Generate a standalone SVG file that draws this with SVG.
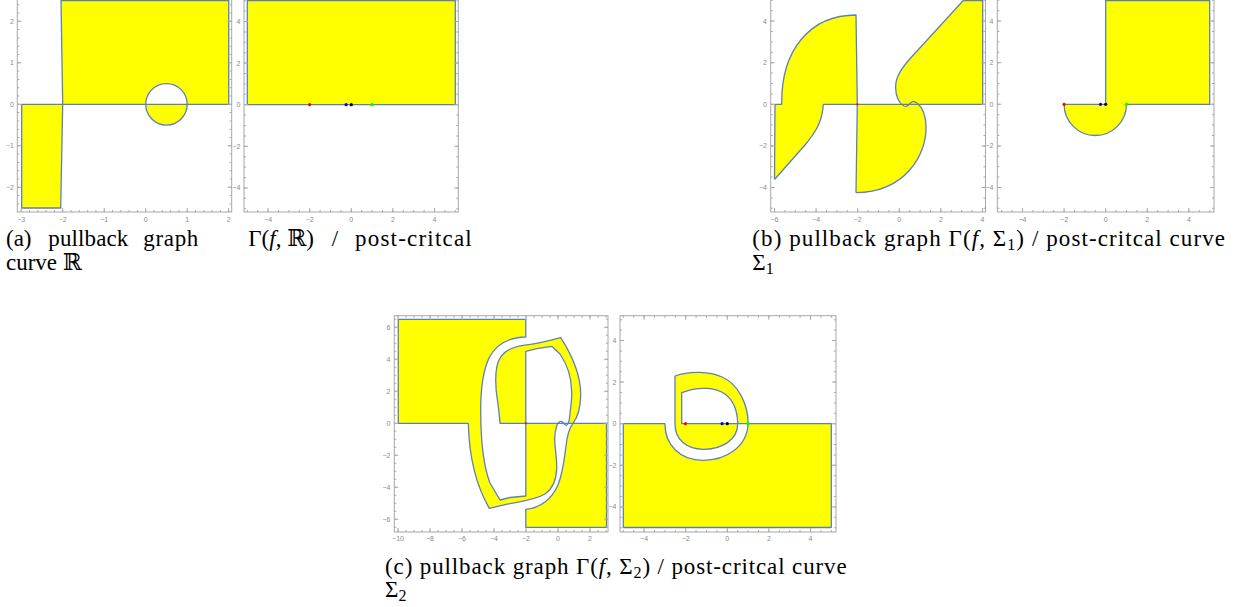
<svg xmlns="http://www.w3.org/2000/svg" width="1242" height="607" viewBox="0 0 1242 607">
<style>
.y{fill:#ffff00;stroke:none}
.b{fill:none;stroke:#5e81b5;stroke-width:1.3;stroke-linejoin:round}
.fr{fill:none;stroke:#a8a8a8;stroke-width:1}
.tM{fill:none;stroke:#a8a8a8;stroke-width:4}
.tm{fill:none;stroke:#a8a8a8;stroke-width:2}
.tl{font-family:"Liberation Sans",Arial,sans-serif;font-size:7px;fill:#8a8a8a}
.tb{text-anchor:middle}
.tv{text-anchor:end}
.it{font-style:italic}
</style>
<rect x="0" y="0" width="1242" height="607" fill="#ffffff"/>

<g id="panel-a-left">
<path class="y" d="M61,0.5 H228.7 V104.3 H187.2 A20.75,20.75 0 0 0 145.7,104.3 H62.7 Z"/>
<path class="y" d="M145.7,104.3 A20.75,20.75 0 0 0 187.2,104.3 Z"/>
<path class="y" d="M21.7,104.3 H62.7 L60.7,208 H21.7 Z"/>
<path class="b" d="M21.7,104.3 H228.7 V0.5 H61 L62.7,104.3 L60.7,208 H21.7 Z"/>
<circle class="b" cx="166.45" cy="104.3" r="20.75"/>
<rect class="fr" x="17.3" y="-10" width="214.4" height="222"/>
<path class="tM" d="M20.7,210 H231" stroke-dasharray="1 40.5"/>
<path class="tm" d="M20.7,211 H231" stroke-dasharray="1 7.3"/>
<path class="tM" d="M19.3,20.8 V212 M229.7,20.8 V212" stroke-dasharray="1 40.5"/>
<path class="tm" d="M18.3,4.2 V212 M230.7,4.2 V212" stroke-dasharray="1 7.3"/>
<g class="tl tb"><text x="21.2" y="222">−3</text><text x="62.7" y="222">−2</text><text x="104.2" y="222">−1</text><text x="145.7" y="222">0</text><text x="187.2" y="222">1</text><text x="228.7" y="222">2</text></g>
<g class="tl tv"><text x="14" y="23.8">2</text><text x="14" y="65.3">1</text><text x="14" y="106.8">0</text><text x="14" y="148.3">−1</text><text x="14" y="189.8">−2</text></g>
</g>

<g id="panel-a-right">
<rect class="y" x="247.3" y="0.5" width="208" height="104.2"/>
<rect class="b" x="247.3" y="0.5" width="208" height="104.2"/>
<circle cx="309.7" cy="104.7" r="1.6" fill="#ff0000"/>
<circle cx="346.1" cy="104.7" r="1.6" fill="#0000ff"/>
<circle cx="351.3" cy="104.7" r="1.6" fill="#000000"/>
<circle cx="372.1" cy="104.7" r="1.6" fill="#00ff00"/>
<rect class="fr" x="244" y="-10" width="214.3" height="222"/>
<path class="tM" d="M267.6,210 H458" stroke-dasharray="1 40.6"/>
<path class="tm" d="M246.8,211 H458" stroke-dasharray="1 9.4"/>
<path class="tM" d="M246,21 V212 M456.3,21 V212" stroke-dasharray="1 40.6"/>
<path class="tm" d="M245,0.2 V212 M457.3,0.2 V212" stroke-dasharray="1 9.4"/>
<g class="tl tb"><text x="268.1" y="222">−4</text><text x="309.7" y="222">−2</text><text x="351.3" y="222">0</text><text x="392.9" y="222">2</text><text x="434.5" y="222">4</text></g>
<g class="tl tv"><text x="240.5" y="24">4</text><text x="240.5" y="65.6">2</text><text x="240.5" y="107.2">0</text><text x="240.5" y="148.8">−2</text><text x="240.5" y="190.4">−4</text></g>
</g>

<g id="panel-b-left">
<path class="y" d="M775,104.3 H781.7 C781,50 810,15 856,15 L857.3,104.3 H823.3 C822.5,122 815,133 805,145 L774.5,179.5 Z"/>
<path class="y" d="M857.3,104.3 H901 L904.5,106 L909.5,104.3 H918.3 C922,107.5 925.5,114 926,126 C927,155 905,192 856,192.7 Z"/>
<path class="y" d="M963.3,0.5 H982.7 V104.3 H901 C898,101 895.7,95 895.6,87 C895.5,76 903,66.5 912,56.5 Z"/>
<path class="b" d="M774.5,179.5 L775,104.3 H781.7 C781,50 810,15 856,15 L857.3,104.3 L856,192.7 M823.3,104.3 C822.5,122 815,133 805,145 L774.5,179.5 M823.3,104.3 H982.7 V0.5 H963.3"/>
<path class="b" d="M963.3,0.5 L912,56.5 C903,66.5 895.5,76 895.6,87 C895.7,96 899,103 904,106 C907,107.5 909,105 910.5,103 C912,101 915,101 918.3,104.3 C922,107.5 925.5,114 926,126 C927,155 905,192 856,192.7"/>
<circle cx="857.3" cy="104.3" r="1.1" fill="#ff0000"/>
<rect class="fr" x="770.7" y="-10" width="214.8" height="222"/>
<path class="tM" d="M774,210 H985" stroke-dasharray="1 40.6"/>
<path class="tm" d="M774,211 H985" stroke-dasharray="1 9.4"/>
<path class="tM" d="M772.7,20.6 V212 M983.5,20.6 V212" stroke-dasharray="1 40.6"/>
<path class="tm" d="M771.7,-0.2 V212 M984.5,-0.2 V212" stroke-dasharray="1 9.4"/>
<g class="tl tb"><text x="774.5" y="222">−6</text><text x="816.1" y="222">−4</text><text x="857.7" y="222">−2</text><text x="899.3" y="222">0</text><text x="940.9" y="222">2</text><text x="982.5" y="222">4</text></g>
<g class="tl tv"><text x="767" y="23.6">4</text><text x="767" y="65.2">2</text><text x="767" y="106.8">0</text><text x="767" y="148.4">−2</text><text x="767" y="190">−4</text></g>
</g>

<g id="panel-b-right">
<path class="y" d="M1064.1,104.3 H1105.7 V0.5 H1209.7 V104.3 H1126.5 A31.2,31.2 0 0 1 1064.1,104.3 Z"/>
<path class="b" d="M1064.1,104.3 H1105.7 V0.5 H1209.7 V104.3 H1126.5 A31.2,31.2 0 0 1 1064.1,104.3 Z"/>
<circle cx="1064.1" cy="104.3" r="1.6" fill="#ff0000"/>
<circle cx="1100.5" cy="104.3" r="1.6" fill="#0000ff"/>
<circle cx="1105.7" cy="104.3" r="1.6" fill="#000000"/>
<circle cx="1126.5" cy="104.3" r="1.6" fill="#00ff00"/>
<rect class="fr" x="997.3" y="-10" width="216.7" height="222"/>
<path class="tM" d="M1022,210 H1214" stroke-dasharray="1 40.6"/>
<path class="tm" d="M1001.2,211 H1214" stroke-dasharray="1 9.4"/>
<path class="tM" d="M999.3,20.6 V212 M1212,20.6 V212" stroke-dasharray="1 40.6"/>
<path class="tm" d="M998.3,-0.2 V212 M1213,-0.2 V212" stroke-dasharray="1 9.4"/>
<g class="tl tb"><text x="1022.5" y="222">−4</text><text x="1064.1" y="222">−2</text><text x="1105.7" y="222">0</text><text x="1147.3" y="222">2</text><text x="1188.9" y="222">4</text></g>
<g class="tl tv"><text x="993.5" y="23.6">4</text><text x="993.5" y="65.2">2</text><text x="993.5" y="106.8">0</text><text x="993.5" y="148.4">−2</text><text x="993.5" y="190">−4</text></g>
</g>

<g id="panel-c-left">
<path class="y" d="M398.3,319.3 H525.8 V337 C510,337.5 496,344 489,358 C483,371 480.7,390 480.7,410 C480.7,440 483,465 490,483 L500,500 L510,497.5 L525.8,496 V423.3 H557.5 L557,425 C556,428 554.8,432 554.7,438 C554.5,447 556.8,455 556.7,468 C556.5,480 552,489 545,494 C535,500 520,501.5 505,504.7 L489.3,508.3 C474,482 469,452 468.3,423.3 H398.3 Z"/>
<path class="y" d="M525.8,527.3 H606.5 V423.3 H573 C577,418 580.5,408 580.7,395 C580.8,378 575,360 560.7,337.7 L550,340.3 C540,343 530,344.5 523.3,345.3 C512,347 503,351 499,360 C495,368 495,385 497.3,399 C498.5,408 499.5,415 500,423.3 H525.8 V351.3 L536.7,348.7 L551.7,346.3 L560,354 C567,364 571.5,378 571.7,392 C572,400 570.5,408 570,414 C569.6,419 569,423 567.5,424 L573,423.3 C569,428 567,437 566,446 C564.5,458 563,473 558,485 C552,499 540,508 525.8,509.3 Z"/>
<path class="b" d="M468.3,423.3 H398.3 V319.3 H525.8 V337 C510,337.5 496,344 489,358 C483,371 480.7,390 480.7,410 C480.7,440 483,465 490,483 L500,500 L510,497.5 L525.8,496 V351.3 L536.7,348.7 L551.7,346.3 L560,354 C567,364 571.5,378 571.7,392 C572,400 570.5,408 570,414 C569.6,419 569,423.5 567,425 C565.5,426 564.3,424.3 563,422.5 C561.5,420.5 558.5,421.5 557,425 C556,428 554.8,432 554.7,438 C554.5,447 556.8,455 556.7,468 C556.5,480 552,489 545,494 C535,500 520,501.5 505,504.7 L489.3,508.3 C474,482 469,452 468.3,423.3"/>
<path class="b" d="M500,423.3 H606.5 V527.3 H525.8 V509.3 C540,508 552,499 558,485 C563,473 564.5,458 566,446 C567,437 569,428 573,423.3 C577,418 580.5,408 580.7,395 C580.8,378 575,360 560.7,337.7 L550,340.3 C540,343 530,344.5 523.3,345.3 C512,347 503,351 499,360 C495,368 495,385 497.3,399 C498.5,408 499.5,415 500,423.3 Z"/>
<circle cx="525.8" cy="423.3" r="1.1" fill="#ff0000"/>
<rect class="fr" x="394.3" y="315.7" width="213.7" height="216.3"/>
<path class="tM" d="M397.5,530 H608 M397.5,317.7 H608" stroke-dasharray="1 31"/>
<path class="tm" d="M397.5,531 H608 M397.5,316.7 H608" stroke-dasharray="1 7"/>
<path class="tM" d="M396.3,326.8 V532 M606,326.8 V532" stroke-dasharray="1 31"/>
<path class="tm" d="M395.3,318.8 V532 M607,318.8 V532" stroke-dasharray="1 7"/>
<g class="tl tb"><text x="398" y="541">−10</text><text x="430" y="541">−8</text><text x="462" y="541">−6</text><text x="494" y="541">−4</text><text x="526" y="541">−2</text><text x="558" y="541">0</text><text x="590" y="541">2</text></g>
<g class="tl tv"><text x="390.5" y="329.8">6</text><text x="390.5" y="361.8">4</text><text x="390.5" y="393.8">2</text><text x="390.5" y="425.8">0</text><text x="390.5" y="457.8">−2</text><text x="390.5" y="489.8">−4</text><text x="390.5" y="521.8">−6</text></g>
</g>

<g id="panel-c-right">
<path class="y" d="M623.3,423.7 H664.9 C665,445 680,460.3 703,460.3 C726,460.3 747,447 748.1,423.7 H831.3 V527.5 H623.3 Z"/>
<path class="y" fill-rule="evenodd" d="M675,376 C690,370.5 710,371.5 722,377 C738,384 748.2,404 748.1,423.7 H737.7 C737.7,440 722,449.3 703,449.3 C687,449.3 675,440 675,423.7 Z M681.7,392.7 C700,385.5 716,388 725,394 C733,400 737.5,410 737.7,423.7 H681.7 Z"/>
<path class="b" d="M664.9,423.7 H623.3 V527.5 H831.3 V423.7 H681.7 V392.7 C700,385.5 716,388 725,394 C733,400 737.5,410 737.7,423.7 C737.7,440 722,449.3 703,449.3 C687,449.3 675,440 675,423.7 V376 C690,370.5 710,371.5 722,377 C738,384 748.2,404 748.1,423.7 C747,447 726,460.3 703,460.3 C680,460.3 665,445 664.9,423.7 Z"/>
<circle cx="685.5" cy="423.7" r="1.6" fill="#ff0000"/>
<circle cx="722.1" cy="423.7" r="1.6" fill="#0000ff"/>
<circle cx="727.3" cy="423.7" r="1.6" fill="#000000"/>
<circle cx="748.1" cy="423.7" r="1.6" fill="#00ff00"/>
<rect class="fr" x="620" y="315.7" width="216" height="216.3"/>
<path class="tM" d="M643.6,530 H836 M643.6,317.7 H836" stroke-dasharray="1 40.6"/>
<path class="tm" d="M622.8,531 H836 M622.8,316.7 H836" stroke-dasharray="1 9.4"/>
<path class="tM" d="M622,340 V532 M834,340 V532" stroke-dasharray="1 40.6"/>
<path class="tm" d="M621,319.2 V532 M835,319.2 V532" stroke-dasharray="1 9.4"/>
<g class="tl tb"><text x="644.1" y="541">−4</text><text x="685.7" y="541">−2</text><text x="727.3" y="541">0</text><text x="768.9" y="541">2</text><text x="810.5" y="541">4</text></g>
<g class="tl tv"><text x="616.5" y="343">4</text><text x="616.5" y="384.6">2</text><text x="616.5" y="426.2">0</text><text x="616.5" y="467.8">−2</text><text x="616.5" y="509.4">−4</text></g>
</g>

<g id="captions" font-family="'Liberation Serif', 'DejaVu Serif', serif" font-size="23" fill="#000000">
<text x="6" y="246">(a)</text>
<text x="48.3" y="246" textLength="80" lengthAdjust="spacing">pullback</text>
<text x="143.3" y="246" textLength="55" lengthAdjust="spacing">graph</text>
<text x="248.3" y="246">Γ(<tspan class="it">f</tspan>, ℝ)</text>
<text x="331.7" y="246">/</text>
<text x="355" y="246" textLength="116.7" lengthAdjust="spacing">post-critcal</text>
<text x="6" y="269.5">curve ℝ</text>
<text x="752.3" y="246" textLength="472.7" lengthAdjust="spacing">(b) pullback graph Γ(<tspan class="it">f</tspan>, Σ<tspan font-size="16" dy="4">1</tspan><tspan dy="-4">)</tspan> / post-critcal curve</text>
<text x="752.3" y="269.5">Σ<tspan font-size="16" dy="4">1</tspan></text>
<text x="385" y="573.5" textLength="461.7" lengthAdjust="spacing">(c) pullback graph Γ(<tspan class="it">f</tspan>, Σ<tspan font-size="16" dy="4">2</tspan><tspan dy="-4">)</tspan> / post-critcal curve</text>
<text x="385" y="597">Σ<tspan font-size="16" dy="4">2</tspan></text>
</g>
</svg>
